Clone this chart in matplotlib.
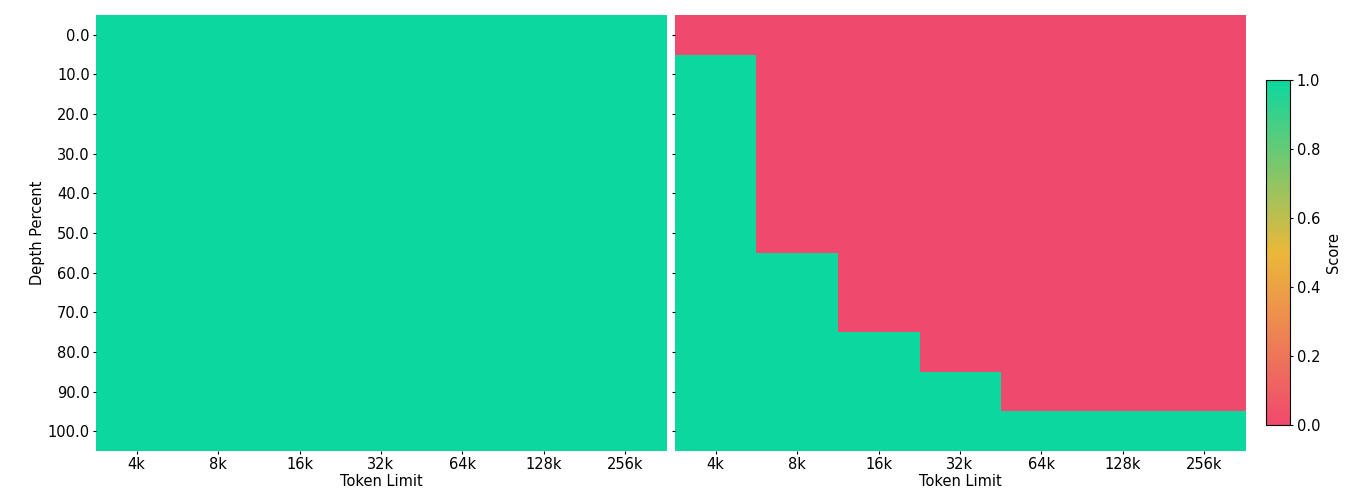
import numpy as np
import matplotlib
matplotlib.use("Agg")
import matplotlib.pyplot as plt
from matplotlib.colors import LinearSegmentedColormap

# データ
token_limits = ["4k", "8k", "16k", "32k", "64k", "128k", "256k"]
depth_percent = [0.0, 10.0, 20.0, 30.0, 40.0, 50.0, 60.0, 70.0, 80.0, 90.0, 100.0]

# 各トークン長で正解になり始める深さ (右パネル)
left_scores = np.ones((len(depth_percent), len(token_limits)))
first_pass_depth = [10.0, 60.0, 80.0, 90.0, 100.0, 100.0, 100.0]
right_scores = np.array([[1.0 if d >= first_pass_depth[j] else 0.0
                          for j in range(len(token_limits))]
                         for d in depth_percent])

cmap = LinearSegmentedColormap.from_list("custom_cmap", ["#F0496E", "#EBB839", "#0CD79F"])

plt.rcParams['font.family'] = ['DejaVu Sans']
plt.rcParams['font.size'] = 10.5
fig = plt.figure(figsize=(13.63, 5), dpi=100)
ax1 = fig.add_axes([0.0704, 0.098, 0.4182, 0.872])
ax2 = fig.add_axes([0.4952, 0.098, 0.4182, 0.872])
cax = fig.add_axes([0.9288, 0.15, 0.0176, 0.69])

for ax, data in [(ax1, left_scores), (ax2, right_scores)]:
    im = ax.imshow(data, cmap=cmap, vmin=0, vmax=1, aspect='auto', interpolation='nearest')
    ax.set_xticks(range(len(token_limits)))
    ax.set_xticklabels(token_limits)
    ax.set_yticks(range(len(depth_percent)))
    ax.tick_params(length=2.2, pad=2.2)
    ax.set_xlabel("Token Limit", labelpad=1)
    for s in ax.spines.values():
        s.set_visible(False)

ax1.set_yticklabels([str(d) for d in depth_percent])
ax1.set_ylabel("Depth Percent", labelpad=2)
ax2.set_yticklabels([])

cb = fig.colorbar(im, cax=cax)
cb.set_label("Score")
cb.set_ticks([0.0, 0.2, 0.4, 0.6, 0.8, 1.0])
cb.ax.tick_params(length=2.5, pad=2.5)

fig.savefig("out.png", dpi=100)
